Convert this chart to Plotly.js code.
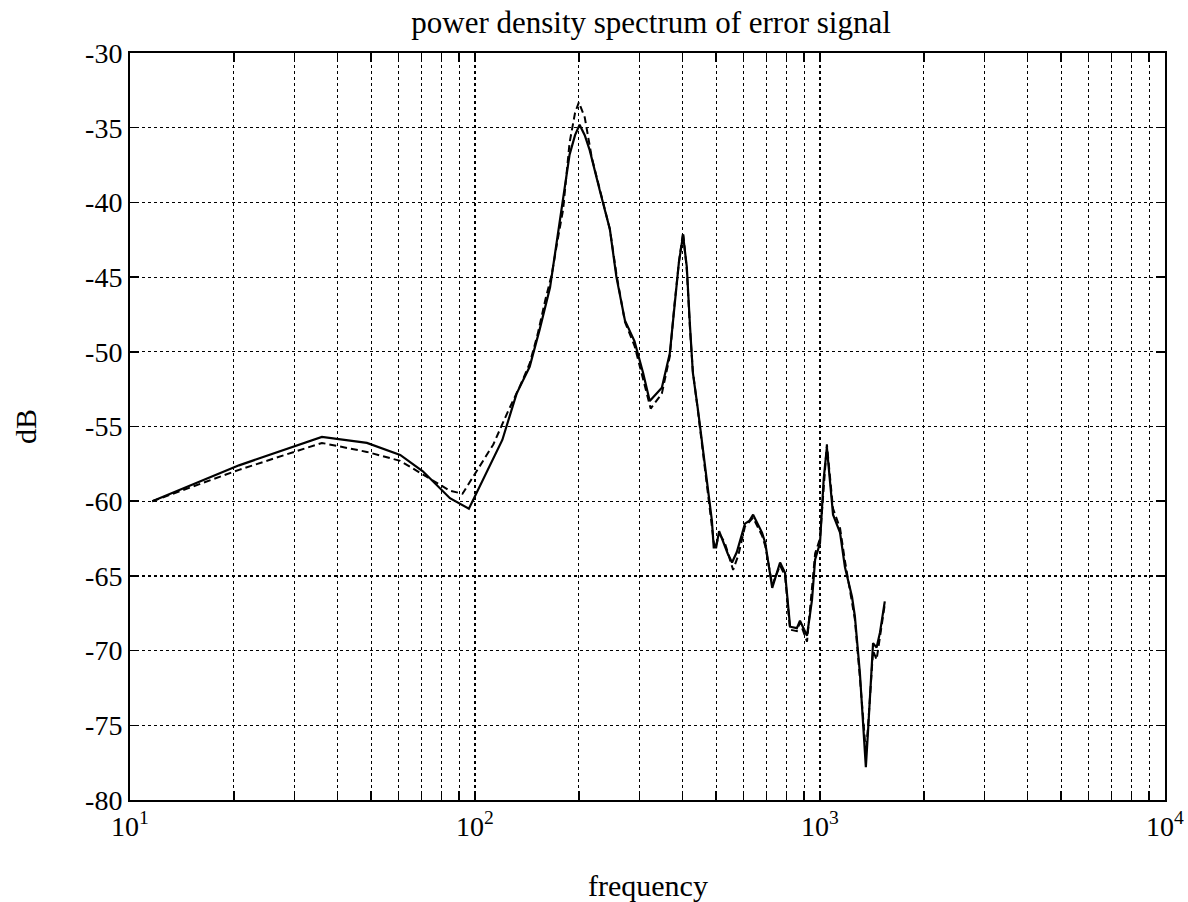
<!DOCTYPE html>
<html>
<head>
<meta charset="utf-8">
<script src="https://cdn.plot.ly/plotly-3.0.1.min.js"></script>
<style>html,body{margin:0;padding:0;background:#fff;}#chart{width:1188px;height:902px;}</style>
</head>
<body>
<div id="chart"></div>
<script>
// Solid curve (frequency in Hz, power in dB)
var solidFreq = [11.6, 20.7, 36, 48.6, 60.7, 70.6, 84.6, 96, 120, 132, 144, 154, 165, 173, 180, 188, 195, 201, 208, 215, 230, 246, 257, 272, 290, 307, 321, 348, 367, 378, 390, 401, 411, 420, 428, 443, 458, 473, 486, 492, 500, 510, 521, 540, 556, 574, 606, 625, 640, 660, 679, 694, 727, 766, 792, 819, 857, 875, 900, 917, 948, 968, 1000, 1025, 1047, 1070, 1091, 1143, 1181, 1238, 1262, 1305, 1358, 1377, 1425, 1459, 1492, 1541];
var solidDb = [-60.0, -57.6, -55.7, -56.1, -56.9, -58.0, -59.8, -60.5, -55.9, -52.8, -51.0, -48.5, -45.7, -42.5, -39.8, -36.8, -35.5, -34.8, -35.5, -36.5, -39.2, -41.8, -45.0, -47.9, -49.3, -51.4, -53.3, -52.4, -50.1, -47.0, -44.0, -42.2, -44.3, -48.3, -51.4, -53.9, -56.6, -59.0, -61.3, -63.1, -63.1, -62.0, -62.6, -63.5, -64.1, -63.4, -61.5, -61.3, -60.9, -61.5, -62.1, -62.8, -65.8, -64.1, -64.8, -68.4, -68.5, -68.0, -68.6, -69.0, -66.6, -63.9, -62.8, -58.5, -56.4, -59.0, -60.9, -62.1, -64.4, -66.4, -67.7, -71.5, -77.8, -75.5, -69.5, -69.8, -68.8, -66.7];

// Dashed curve
var dashFreq = [11.6, 20.7, 36, 48.6, 60.7, 70.6, 84.6, 92, 103, 113, 124, 135, 144, 152, 160, 167, 173, 180, 188, 195, 200, 208, 218, 230, 246, 257, 272, 290, 307, 323, 348, 367, 378, 390, 401, 411, 420, 428, 443, 458, 473, 486, 495, 505, 515, 530, 560, 580, 606, 640, 679, 694, 727, 766, 792, 819, 857, 875, 917, 948, 968, 1000, 1047, 1091, 1143, 1181, 1238, 1262, 1305, 1358, 1377, 1425, 1459, 1492, 1541];
var dashDb = [-60.0, -57.9, -56.1, -56.7, -57.3, -58.2, -59.3, -59.5, -57.7, -56.2, -54.1, -52.3, -50.8, -48.8, -46.5, -44.8, -42.7, -40.5, -36.0, -34.0, -33.3, -34.3, -37.0, -39.2, -41.8, -44.8, -48.0, -49.6, -51.8, -53.8, -52.8, -50.3, -47.0, -44.0, -42.0, -44.5, -48.5, -51.3, -54.0, -56.8, -59.3, -61.5, -63.2, -62.6, -62.3, -62.8, -64.6, -63.6, -61.7, -61.1, -62.3, -63.0, -65.6, -64.3, -65.0, -68.6, -68.7, -68.1, -69.4, -65.8, -63.5, -62.5, -56.2, -60.5, -61.8, -64.0, -66.8, -67.9, -71.8, -76.8, -75.2, -70.0, -70.6, -69.0, -66.9];

// Tick labels
var xTickVals = [10, 100, 1000, 10000];
var xTickText = ['10<sup>1</sup>', '10<sup>2</sup>', '10<sup>3</sup>', '10<sup>4</sup>'];
var yTickVals = [-80, -75, -70, -65, -60, -55, -50, -45, -40, -35, -30];
var yTickText = ['-80', '-75', '-70', '-65', '-60', '-55', '-50', '-45', '-40', '-35', '-30'];

var titleText = 'power density spectrum of error signal';
var xTitle = 'frequency';
var yTitle = 'dB';

var serif = 'Liberation Serif, Times New Roman, serif';

var traces = [
  {x: solidFreq, y: solidDb, type: 'scatter', mode: 'lines',
   line: {color: '#000', width: 2.2}, showlegend: false, hoverinfo: 'none'},
  {x: dashFreq, y: dashDb, type: 'scatter', mode: 'lines',
   line: {color: '#000', width: 2, dash: '7px,4px'}, showlegend: false, hoverinfo: 'none'}
];

var layout = {
  width: 1188, height: 902,
  margin: {l: 130, r: 23, t: 53, b: 102},
  paper_bgcolor: '#fff', plot_bgcolor: '#fff',
  font: {family: serif, color: '#000', size: 25},
  title: {text: titleText, x: 0.548, xanchor: 'center', y: 0.975, yanchor: 'middle',
          font: {family: serif, size: 31, color: '#000'}},
  xaxis: {
    type: 'log', range: [1, 4],
    tickmode: 'array', tickvals: xTickVals, ticktext: xTickText,
    showline: true, linecolor: '#000', linewidth: 2, mirror: 'ticks',
    ticks: 'inside', ticklen: 9, tickwidth: 1.5, tickcolor: '#000',
    showgrid: true, gridcolor: '#000', gridwidth: 1.2, griddash: 'dot',
    zeroline: false,
    tickfont: {family: serif, size: 28, color: '#000'},
    minor: {dtick: 'D1', ticks: 'inside', ticklen: 9, tickwidth: 1.5, tickcolor: '#000',
            showgrid: true, gridcolor: '#000', gridwidth: 1.2, griddash: 'dot'}
  },
  yaxis: {
    range: [-80, -30],
    tickmode: 'array', tickvals: yTickVals, ticktext: yTickText,
    showline: true, linecolor: '#000', linewidth: 2, mirror: 'ticks',
    ticks: 'inside', ticklen: 9, tickwidth: 1.5, tickcolor: '#000',
    showgrid: true, gridcolor: '#000', gridwidth: 1.2, griddash: 'dot',
    zeroline: false,
    tickfont: {family: serif, size: 28, color: '#000'},
    title: {text: yTitle, standoff: 40, font: {family: serif, size: 30, color: '#000'}}
  },
  annotations: [
    {text: xTitle, xref: 'paper', yref: 'paper', x: 0.5, y: -0.114,
     xanchor: 'center', yanchor: 'middle', showarrow: false,
     font: {family: serif, size: 30, color: '#000'}}
  ]
};

Plotly.newPlot('chart', traces, layout, {staticPlot: true, displayModeBar: false});
</script>
</body>
</html>
